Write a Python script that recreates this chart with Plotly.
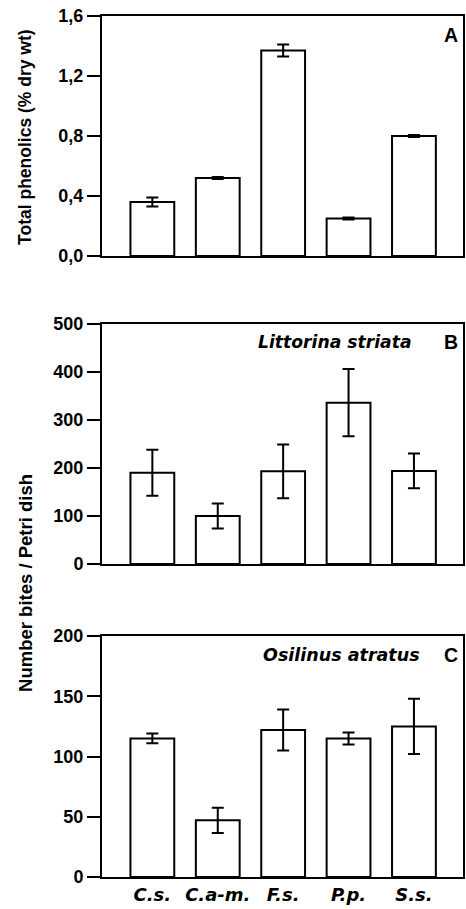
import plotly.graph_objects as go

categories = ["C.s.", "C.a-m.", "F.s.", "P.p.", "S.s."]
phenolics = [0.36, 0.52, 1.37, 0.25, 0.80]
phenolics_err = [0.03, 0.006, 0.04, 0.006, 0.006]
littorina = [190, 100, 193, 336, 194]
littorina_err = [48, 26, 56, 70, 36]
osilinus = [115, 47, 122, 115, 125]
osilinus_err = [4, 10.5, 17, 5, 23]

W, H = 466, 909
ML, MR, MT, MB = 102, 1, 16, 32
PW = W - ML - MR
PH = H - MT - MB

def py(p):
    return (H - MB - p) / PH

def px(p):
    return (p - ML) / PW

FONT = "Arial, Liberation Sans, sans-serif"
WIDE = "DejaVu Sans, sans-serif"

fig = go.Figure()
panels = [
    (phenolics, phenolics_err, "x", "y"),
    (littorina, littorina_err, "x2", "y2"),
    (osilinus, osilinus_err, "x3", "y3"),
]
for vals, errs, xa, ya in panels:
    fig.add_trace(go.Bar(
        x=categories, y=vals, xaxis=xa, yaxis=ya, width=0.67,
        marker=dict(color="white", line=dict(color="black", width=2)),
        error_y=dict(type="data", array=errs, visible=True, color="black",
                     thickness=2, width=6),
        showlegend=False,
    ))

tickfont = dict(family=FONT, size=18, color="black", weight="bold")
common_y = dict(showgrid=False, zeroline=False, showline=True, linecolor="black",
                linewidth=2, mirror=True, ticks="outside", ticklen=13, tickwidth=2,
                tickcolor="black", tickfont=tickfont)
common_x = dict(showgrid=False, zeroline=False, showline=True, linecolor="black",
                linewidth=2, mirror=True, ticks="", range=[-0.77, 4.75],
                categoryorder="array", categoryarray=categories)

fig.update_layout(
    width=W, height=H,
    margin=dict(l=ML, r=MR, t=MT, b=MB),
    paper_bgcolor="white", plot_bgcolor="white",
    separators=",.",
    xaxis=dict(common_x, domain=[0, 1], anchor="y", showticklabels=False),
    xaxis2=dict(common_x, domain=[0, 1], anchor="y2", showticklabels=False),
    xaxis3=dict(common_x, domain=[0, 1], anchor="y3", showticklabels=True,
                tickfont=dict(family=WIDE, size=18, color="black", weight="bold", style="italic")),
    yaxis=dict(common_y, domain=[py(256), py(16)], anchor="x", range=[0, 1.6],
               tickvals=[0, 0.4, 0.8, 1.2, 1.6], tickformat=".1f"),
    yaxis2=dict(common_y, domain=[py(564), py(324)], anchor="x2", range=[0, 500],
                tickvals=[0, 100, 200, 300, 400, 500]),
    yaxis3=dict(common_y, domain=[py(877), py(636)], anchor="x3", range=[0, 200],
                tickvals=[0, 50, 100, 150, 200]),
)

ann_font = dict(family=FONT, size=19.5, color="black", weight="bold")
fig.add_annotation(text="Total phenolics (% dry wt)", textangle=-90, xref="paper", yref="paper",
                   x=px(25), y=py(136.5), showarrow=False, xanchor="center", yanchor="middle",
                   font=dict(family=FONT, size=17.5, color="black", weight="bold"))
fig.add_annotation(text="Number bites / Petri dish", textangle=-90, xref="paper", yref="paper",
                   x=px(25), y=py(582.5), showarrow=False, xanchor="center", yanchor="middle",
                   font=dict(family=FONT, size=18.5, color="black", weight="bold"))
fig.add_annotation(text="A", xref="paper", yref="paper", x=px(462), y=py(35), showarrow=False,
                   xanchor="right", yanchor="middle", font=ann_font)
fig.add_annotation(text="B", xref="paper", yref="paper", x=px(462), y=py(342), showarrow=False,
                   xanchor="right", yanchor="middle", font=ann_font)
fig.add_annotation(text="C", xref="paper", yref="paper", x=px(462), y=py(655), showarrow=False,
                   xanchor="right", yanchor="middle", font=ann_font)
fig.add_annotation(text="Littorina striata", xref="paper", yref="paper", x=px(416), y=py(342),
                   showarrow=False, xanchor="right", yanchor="middle",
                   font=dict(family=WIDE, size=17.2, color="black", weight="bold", style="italic"))
fig.add_annotation(text="Osilinus atratus", xref="paper", yref="paper", x=px(424), y=py(655),
                   showarrow=False, xanchor="right", yanchor="middle",
                   font=dict(family=WIDE, size=17.5, color="black", weight="bold", style="italic"))

fig.write_html("out.html")
